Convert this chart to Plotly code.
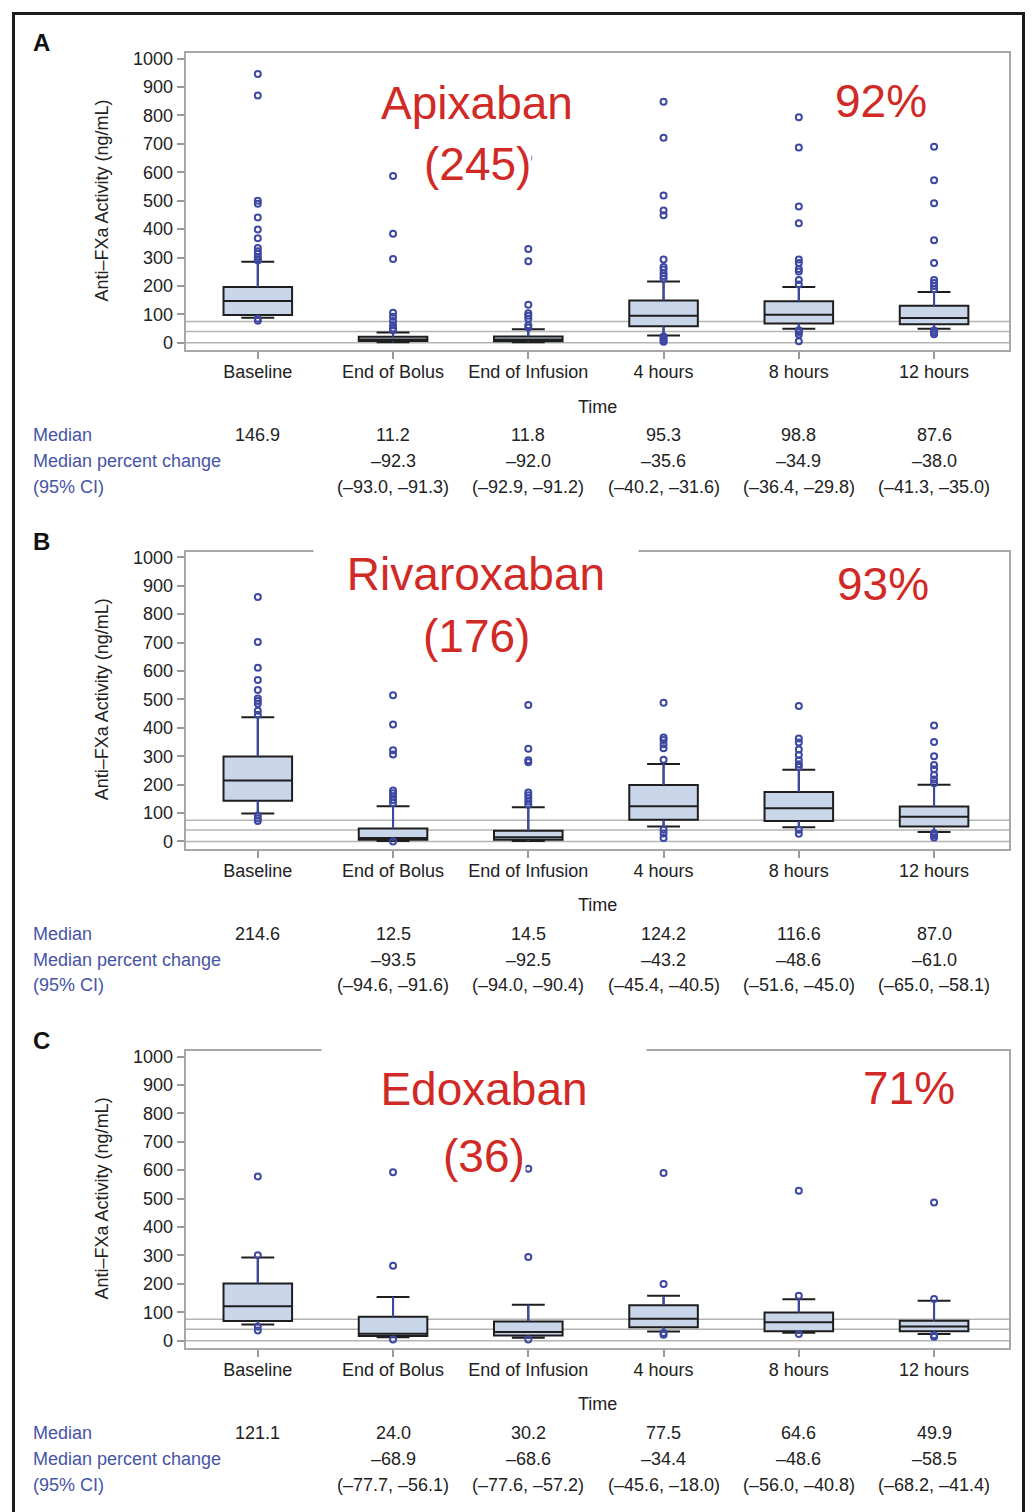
import plotly.graph_objects as go

W, H = 1032, 1512


def px(x):
    return x / W


def py(y):
    return 1 - y / H


FONT = "Liberation Sans, Arial, sans-serif"
RED = "#d12a26"
BLUE_TXT = "#4654a8"
PT_BLUE = "#3d48a2"

categories = ["Baseline", "End of Bolus", "End of Infusion", "4 hours", "8 hours", "12 hours"]
y_ticks = list(range(0, 1001, 100))
ref_lines = [0, 40, 75]

# ---- Apixaban ----
apix_median = [146.9, 11.2, 11.8, 95.3, 98.8, 87.6]
apix_q1 = [98, 6, 5, 58, 68, 65]
apix_q3 = [196, 21, 22, 149, 146, 130]
apix_low = [88, 2, 2, 26, 49, 49]
apix_high = [285, 36, 48, 216, 196, 179]
apix_outliers = [
    [946, 870, 500, 489, 441, 399, 368, 334, 322, 313, 302, 294, 290, 85, 78],
    [587, 384, 295, 106, 92, 77, 62, 50, 44],
    [650, 330, 287, 134, 104, 95, 85, 62, 54],
    [848, 722, 518, 466, 449, 293, 267, 258, 246, 235, 225, 22, 17, 10, 4],
    [794, 687, 480, 421, 293, 281, 260, 251, 221, 205, 44, 38, 29, 5],
    [690, 572, 491, 361, 281, 221, 210, 200, 188, 43, 36, 30],
]
apix_change = [None, -92.3, -92.0, -35.6, -34.9, -38.0]
apix_ci_low = [None, -93.0, -92.9, -40.2, -36.4, -41.3]
apix_ci_high = [None, -91.3, -91.2, -31.6, -29.8, -35.0]

# ---- Rivaroxaban ----
riva_median = [214.6, 12.5, 14.5, 124.2, 116.6, 87.0]
riva_q1 = [143, 6, 6, 76, 72, 53]
riva_q3 = [299, 46, 38, 199, 174, 123]
riva_low = [98, 2, 2, 53, 50, 33]
riva_high = [437, 124, 120, 273, 252, 200]
riva_outliers = [
    [860, 702, 611, 568, 533, 503, 494, 485, 460, 446, 91, 81, 72],
    [515, 412, 321, 306, 179, 170, 158, 146, 135, 0],
    [480, 326, 286, 279, 172, 163, 152, 141, 129],
    [488, 366, 357, 342, 328, 288, 41, 28, 12],
    [477, 362, 348, 324, 304, 286, 272, 262, 41, 27],
    [408, 350, 300, 269, 254, 234, 218, 205, 29, 22, 14],
]
riva_change = [None, -93.5, -92.5, -43.2, -48.6, -61.0]
riva_ci_low = [None, -94.6, -94.0, -45.4, -51.6, -65.0]
riva_ci_high = [None, -91.6, -90.4, -40.5, -45.0, -58.1]

# ---- Edoxaban ----
edox_median = [121.1, 24.0, 30.2, 77.5, 64.6, 49.9]
edox_q1 = [69, 16, 18, 47, 33, 33]
edox_q3 = [201, 84, 67, 125, 99, 70]
edox_low = [57, 12, 10, 32, 28, 23]
edox_high = [293, 154, 126, 158, 146, 140]
edox_outliers = [
    [578, 301, 49, 36],
    [593, 264, 4],
    [605, 294, 4],
    [590, 199, 27, 21],
    [528, 158, 23],
    [486, 147, 19, 14],
]
edox_change = [None, -68.9, -68.6, -34.4, -48.6, -58.5]
edox_ci_low = [None, -77.7, -77.6, -45.6, -56.0, -68.2]
edox_ci_high = [None, -56.1, -57.2, -18.0, -40.8, -41.4]

drug_names = ["Apixaban", "Rivaroxaban", "Edoxaban"]
drug_counts = [245, 176, 36]
efficacy = ["92%", "93%", "71%"]
panel_letters = ["A", "B", "C"]

# panel frame positions (pixels) and label placement
panels = [
    dict(top=49.5, bottom=347.5, name_box_top=67, name_box_h=60, count_y=161, pct_x=881, pct_y=97, name_x=477,
         median=apix_median, q1=apix_q1, q3=apix_q3, low=apix_low, high=apix_high, out=apix_outliers,
         chg=apix_change, cil=apix_ci_low, cih=apix_ci_high),
    dict(top=550.5, bottom=848.5, name_box_top=541, name_box_h=60, count_y=635, pct_x=883, pct_y=583, name_x=476,
         median=riva_median, q1=riva_q1, q3=riva_q3, low=riva_low, high=riva_high, out=riva_outliers,
         chg=riva_change, cil=riva_ci_low, cih=riva_ci_high),
    dict(top=1052, bottom=1350, name_box_top=1047, name_box_h=82, count_y=1157, pct_x=909, pct_y=1089, name_x=484,
         median=edox_median, q1=edox_q1, q3=edox_q3, low=edox_low, high=edox_high, out=edox_outliers,
         chg=edox_change, cil=edox_ci_low, cih=edox_ci_high),
]


def dash(v):
    return f"{v:.1f}".replace("-", "\u2013")


fig = go.Figure()
annotations = []
shapes = []
layout_axes = {}
txt = dict(family=FONT, size=18, color="#222")
big = dict(family=FONT, size=46, color=RED)

for i, p in enumerate(panels):
    xa = "x" if i == 0 else f"x{i + 1}"
    ya = "y" if i == 0 else f"y{i + 1}"
    xkey = "xaxis" if i == 0 else f"xaxis{i + 1}"
    ykey = "yaxis" if i == 0 else f"yaxis{i + 1}"

    # boxes from summary statistics
    fig.add_trace(go.Box(
        x=categories, q1=p["q1"], median=p["median"], q3=p["q3"],
        lowerfence=p["low"], upperfence=p["high"],
        xaxis=xa, yaxis=ya, width=0.507, whiskerwidth=0.48,
        fillcolor="#c9d5e8", line=dict(color="#1e1e1e", width=2),
        boxpoints=False, hoverinfo="skip", showlegend=False,
    ))

    # blue whisker stems
    wx, wy = [], []
    for c, a, b, lo, hi in zip(categories, p["q1"], p["q3"], p["low"], p["high"]):
        wx += [c, c, None, c, c, None]
        wy += [b, hi, None, a, lo, None]
    fig.add_trace(go.Scatter(
        x=wx, y=wy, xaxis=xa, yaxis=ya, mode="lines",
        line=dict(color="#3c4aa6", width=2), hoverinfo="skip", showlegend=False,
    ))

    # outliers
    ox = [c for c, vals in zip(categories, p["out"]) for _ in vals]
    oy = [v for vals in p["out"] for v in vals]
    fig.add_trace(go.Scatter(
        x=ox, y=oy, xaxis=xa, yaxis=ya, mode="markers",
        marker=dict(symbol="circle-open", size=6, color=PT_BLUE, line=dict(width=2, color=PT_BLUE)),
        hoverinfo="skip", showlegend=False,
    ))

    # reference lines
    for v in ref_lines:
        shapes.append(dict(type="line", xref=f"{xa} domain", x0=0, x1=1, yref=ya, y0=v, y1=v,
                           line=dict(color="#b4b4b4", width=1.5), layer="below"))

    layout_axes[xkey] = dict(
        domain=[px(185.7), px(1009)], anchor=ya, type="category",
        categoryorder="array", categoryarray=categories, range=[-0.533, 5.554],
        showline=True, mirror=True, linecolor="#a8a8a8", linewidth=2,
        ticks="outside", ticklen=7, tickwidth=1.5, tickcolor="#9a9a9a",
        ticklabelstandoff=-2, tickfont=txt,
        showgrid=False, zeroline=False, fixedrange=True,
    )
    layout_axes[ykey] = dict(
        domain=[py(p["bottom"]), py(p["top"])], anchor=xa, range=[-25, 1019],
        tickvals=y_ticks, showline=True, mirror=True, linecolor="#a8a8a8", linewidth=2,
        ticks="outside", ticklen=7, tickwidth=1.5, tickcolor="#9a9a9a",
        tickfont=txt, showgrid=False, zeroline=False, fixedrange=True,
    )

    mid = (p["top"] + p["bottom"]) / 2
    # axis titles
    annotations.append(dict(xref="paper", yref="paper", x=px(102), y=py(mid - 1), xanchor="center", yanchor="middle",
                            text="Anti\u2013FXa Activity (ng/mL)", textangle=-90, showarrow=False, font=txt))
    annotations.append(dict(xref="paper", yref="paper", x=px(597), y=py(p["bottom"] + 57), xanchor="center",
                            yanchor="middle", text="Time", showarrow=False, font=txt))
    # panel letter
    annotations.append(dict(xref="paper", yref="paper", x=px(41), y=py(p["top"] - 11), xanchor="center",
                            yanchor="middle", text=f"<b>{panel_letters[i]}</b>", showarrow=False,
                            font=dict(family=FONT, size=24, color="#111")))

    # drug name (white box) and patient count
    annotations.append(dict(xref="paper", yref="paper", x=px(p["name_x"]), y=py(p["name_box_top"]),
                            xanchor="center", yanchor="top", width=322, height=p["name_box_h"], valign="middle",
                            text=drug_names[i], showarrow=False, bgcolor="white", font=big))
    annotations.append(dict(xref="paper", yref="paper", x=px(p["name_x"]), y=py(p["count_y"]),
                            xanchor="center", yanchor="middle", borderpad=0,
                            text=f"({drug_counts[i]})", showarrow=False, bgcolor="white", font=big))
    annotations.append(dict(xref="paper", yref="paper", x=px(p["pct_x"]), y=py(p["pct_y"]),
                            xanchor="center", yanchor="middle", text=efficacy[i], showarrow=False, font=big))

    # summary table under the panel
    rows_y = [p["bottom"] + 85.5, p["bottom"] + 111.5, p["bottom"] + 137.5]
    for label, ry in zip(["Median", "Median percent change", "(95% CI)"], rows_y):
        annotations.append(dict(xref="paper", yref="paper", x=px(31), y=py(ry), xanchor="left", yanchor="middle",
                                text=label, showarrow=False, font=dict(family=FONT, size=18, color=BLUE_TXT)))
    for c, m, ch, lo, hi in zip(categories, p["median"], p["chg"], p["cil"], p["cih"]):
        annotations.append(dict(xref=xa, yref="paper", x=c, y=py(rows_y[0]), xanchor="center", yanchor="middle",
                                text=f"{m:.1f}", showarrow=False, font=txt))
        if ch is not None:
            annotations.append(dict(xref=xa, yref="paper", x=c, y=py(rows_y[1]), xanchor="center", yanchor="middle",
                                    text=dash(ch), showarrow=False, font=txt))
            annotations.append(dict(xref=xa, yref="paper", x=c, y=py(rows_y[2]), xanchor="center", yanchor="middle",
                                    text=f"({dash(lo)}, {dash(hi)})", showarrow=False, font=txt))

# outer frame
shapes.append(dict(type="rect", xref="paper", yref="paper", x0=px(13.5), x1=px(1023.5), y0=py(1530), y1=py(9.5),
                   line=dict(color="#1c1c1c", width=3), fillcolor="rgba(0,0,0,0)", layer="above"))

fig.update_layout(
    width=W, height=H, margin=dict(l=0, r=0, t=0, b=0),
    paper_bgcolor="white", plot_bgcolor="white",
    showlegend=False, annotations=annotations, shapes=shapes,
    **layout_axes,
)

fig.write_html("out.html")
